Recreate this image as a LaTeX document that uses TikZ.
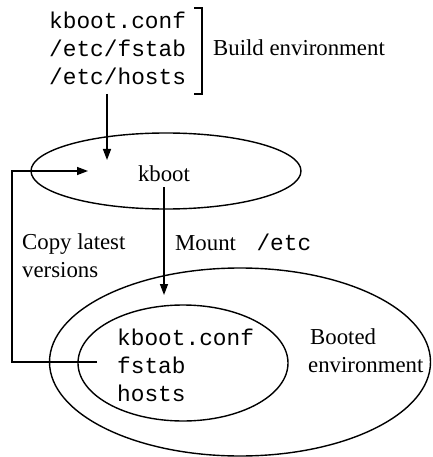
\documentclass[tikz,border=0pt]{standalone}
\usepackage{fontspec}
\setmainfont{Liberation Serif}
\setmonofont{Liberation Mono}
\usetikzlibrary{arrows.meta,shapes.geometric}
\tikzset{
  lw/.style={line width=1.4pt},
  arr/.style={lw,-{Triangle[length=11pt,width=8pt]}},
  ell/.style={draw,lw,ellipse,inner sep=0pt},
  txt/.style={inner sep=0pt,align=left,font=\fontsize{22.8}{28}\selectfont},
  mono/.style={txt,font=\fontsize{22.8}{28}\selectfont\ttfamily},
}
\begin{document}
\begin{tikzpicture}[x=1pt,y=-1pt]
\useasboundingbox (0,0) rectangle (432,457);
% ellipses
\node[ell,minimum width=270pt,minimum height=76pt] (kboot) at (166,171) {};
\node[ell,minimum width=381pt,minimum height=188pt] (booted) at (240,362) {};
\node[ell,minimum width=210pt,minimum height=116pt] (inner) at (183,363) {};
% texts
\node[mono,anchor=west] (topfiles) at (49,48) {kboot.conf\\/etc/fstab\\/etc/hosts};
\node[txt,anchor=west] (build) at (213,48) {Build environment};
\node[txt] (kbootlbl) at (164,174) {kboot};
\node[txt,anchor=west] (copy) at (22,256) {Copy latest\\versions};
\node[txt,anchor=west] (mount) at (175,242) {Mount\hspace{0.9em}\texttt{/etc}};
\node[mono,anchor=west] (innerfiles) at (117,365) {kboot.conf\\fstab\\hosts};
\node[txt,anchor=west] (bootedlbl) at (308,351) {\hspace{2pt}Booted\\environment};
% bracket
\draw[lw] (194,8) -- (202,8) -- (202,94) -- (194,94);
% connectors
\coordinate (t1) at (107,160);
\draw[arr] (t1 |- 0,94) -- (t1);
\coordinate (t2) at (164,295);
\draw[arr] (t2 |- kbootlbl.south) ++(0,5) -- (t2);
\coordinate (c0) at (97,362);
\coordinate (c1) at (88,171);
\draw[arr] (c0) -- (12,362) |- (c1);
\end{tikzpicture}
\end{document}
